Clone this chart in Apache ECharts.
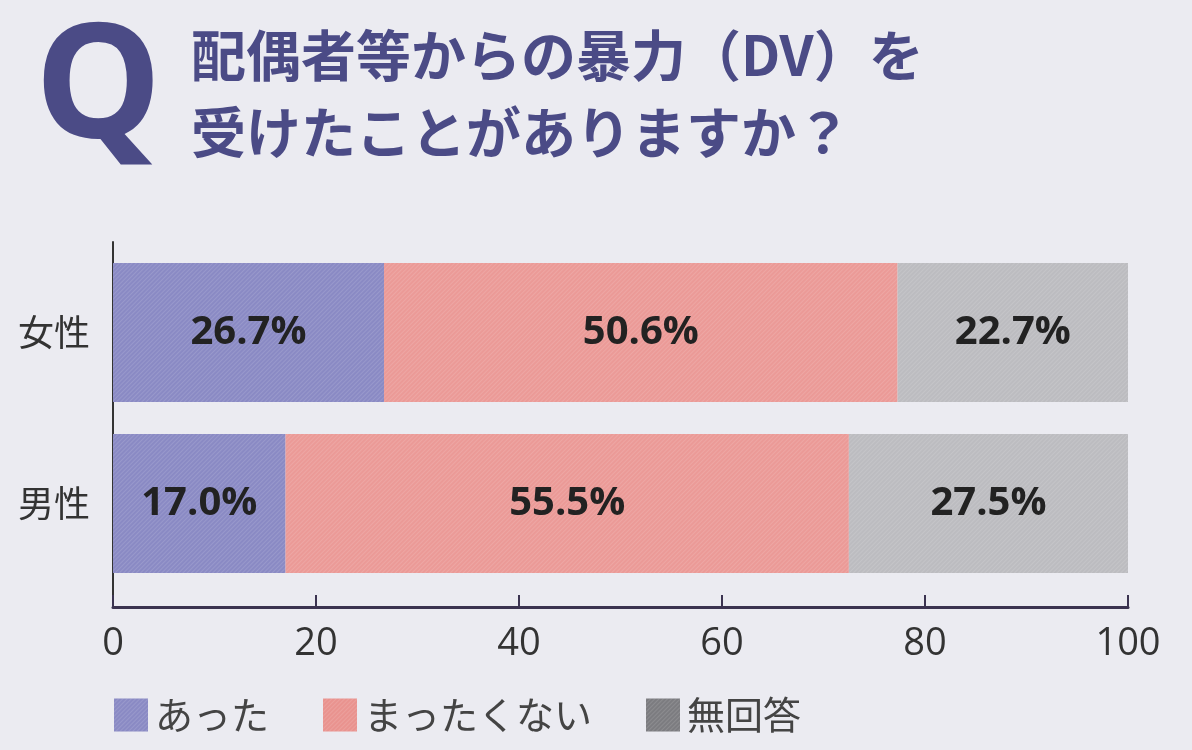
<!DOCTYPE html>
<html>
<head>
<meta charset="utf-8">
<script src="https://cdn.jsdelivr.net/npm/echarts@6/dist/echarts.min.js"></script>
<style>
html,body{margin:0;padding:0;background:#ebebf1;}
#c{width:1192px;height:750px;}
</style>
</head>
<body>
<div id="c"></div>
<script>
const categories = ['女性', '男性'];
const seriesNames = ['あった', 'まったくない', '無回答'];
const valAtta = [26.7, 17.0];
const valMattaku = [50.6, 55.5];
const valMukaitou = [22.7, 27.5];
const xTicks = [0, 20, 40, 60, 80, 100];

const colors = ['#8a8ac4', '#eb9a97', '#bcbcc0'];
const legendColors = ['#8a8ac4', '#e9938f', '#7c7c80'];
const numFont = "'Open Sans', 'Noto Sans CJK JP', sans-serif";
const jpFont = "'Noto Sans CJK JP', sans-serif";

const chart = echarts.init(document.getElementById('c'));
const values = [valAtta, valMattaku, valMukaitou];

const decal = {
  symbol: 'rect',
  symbolSize: 1,
  dashArrayX: [1, 0],
  dashArrayY: [1, 2],
  rotation: -Math.PI / 4,
  color: 'rgba(255,255,255,0.12)'
};

chart.setOption({
  backgroundColor: '#ebebf1',
  animation: false,
  title: [
    {
      text: 'Q', left: 30, top: 6,
      textStyle: {fontFamily: "'Noto Sans', sans-serif", fontSize: 160, fontWeight: 'bold', color: '#4b4b86'}
    },
    {
      text: '配偶者等からの暴力（DV）を\n受けたことがありますか？',
      left: 186, top: 12,
      textStyle: {fontFamily: jpFont, fontSize: 55, fontWeight: 'bold', color: '#4b4b86', lineHeight: 77}
    }
  ],
  legend: {
    left: 109, top: 691,
    itemWidth: 34, itemHeight: 33, itemGap: 54,
    icon: 'rect',
    textStyle: {fontFamily: jpFont, fontSize: 38, color: '#444', padding: [0, 0, 0, 2]},
    data: seriesNames.map((n, i) => ({name: n, itemStyle: {color: legendColors[i]}}))
  },
  grid: [
    {left: 113, right: 64, top: 242, bottom: 143},
    {left: 113, right: 64, top: 247, bottom: 161}
  ],
  xAxis: [
    {
      gridIndex: 0, type: 'value', min: 0, max: 100, interval: 20,
      axisLine: {show: true, lineStyle: {color: '#3b3350', width: 3}},
      axisTick: {show: true, inside: true, length: 12, lineStyle: {color: '#3b3350', width: 2}},
      axisLabel: {fontFamily: numFont, fontSize: 38, color: '#333', margin: 18,
        formatter: v => xTicks.includes(v) ? String(v) : ''},
      splitLine: {show: false}
    },
    {
      gridIndex: 1, type: 'value', min: 0, max: 100, show: false
    }
  ],
  yAxis: [
    {
      gridIndex: 0, type: 'value', min: 0, max: 1,
      axisLine: {show: true, lineStyle: {color: '#333', width: 2}},
      axisTick: {show: false}, axisLabel: {show: false}, splitLine: {show: false}
    },
    {
      gridIndex: 1, type: 'category', data: categories, inverse: true,
      axisLine: {show: false}, axisTick: {show: false},
      axisLabel: {fontFamily: jpFont, fontSize: 36, color: '#333', margin: 23}
    }
  ],
  series: seriesNames.map((name, i) => ({
    name, type: 'bar', stack: 'total', xAxisIndex: 1, yAxisIndex: 1,
    barWidth: 139,
    data: values[i],
    itemStyle: {color: colors[i], decal: decal},
    label: {
      show: true, position: 'inside',
      formatter: p => p.value.toFixed(1) + '%',
      fontFamily: numFont, fontSize: 40, fontWeight: 'bold', color: '#222'
    }
  }))
});
</script>
</body>
</html>
